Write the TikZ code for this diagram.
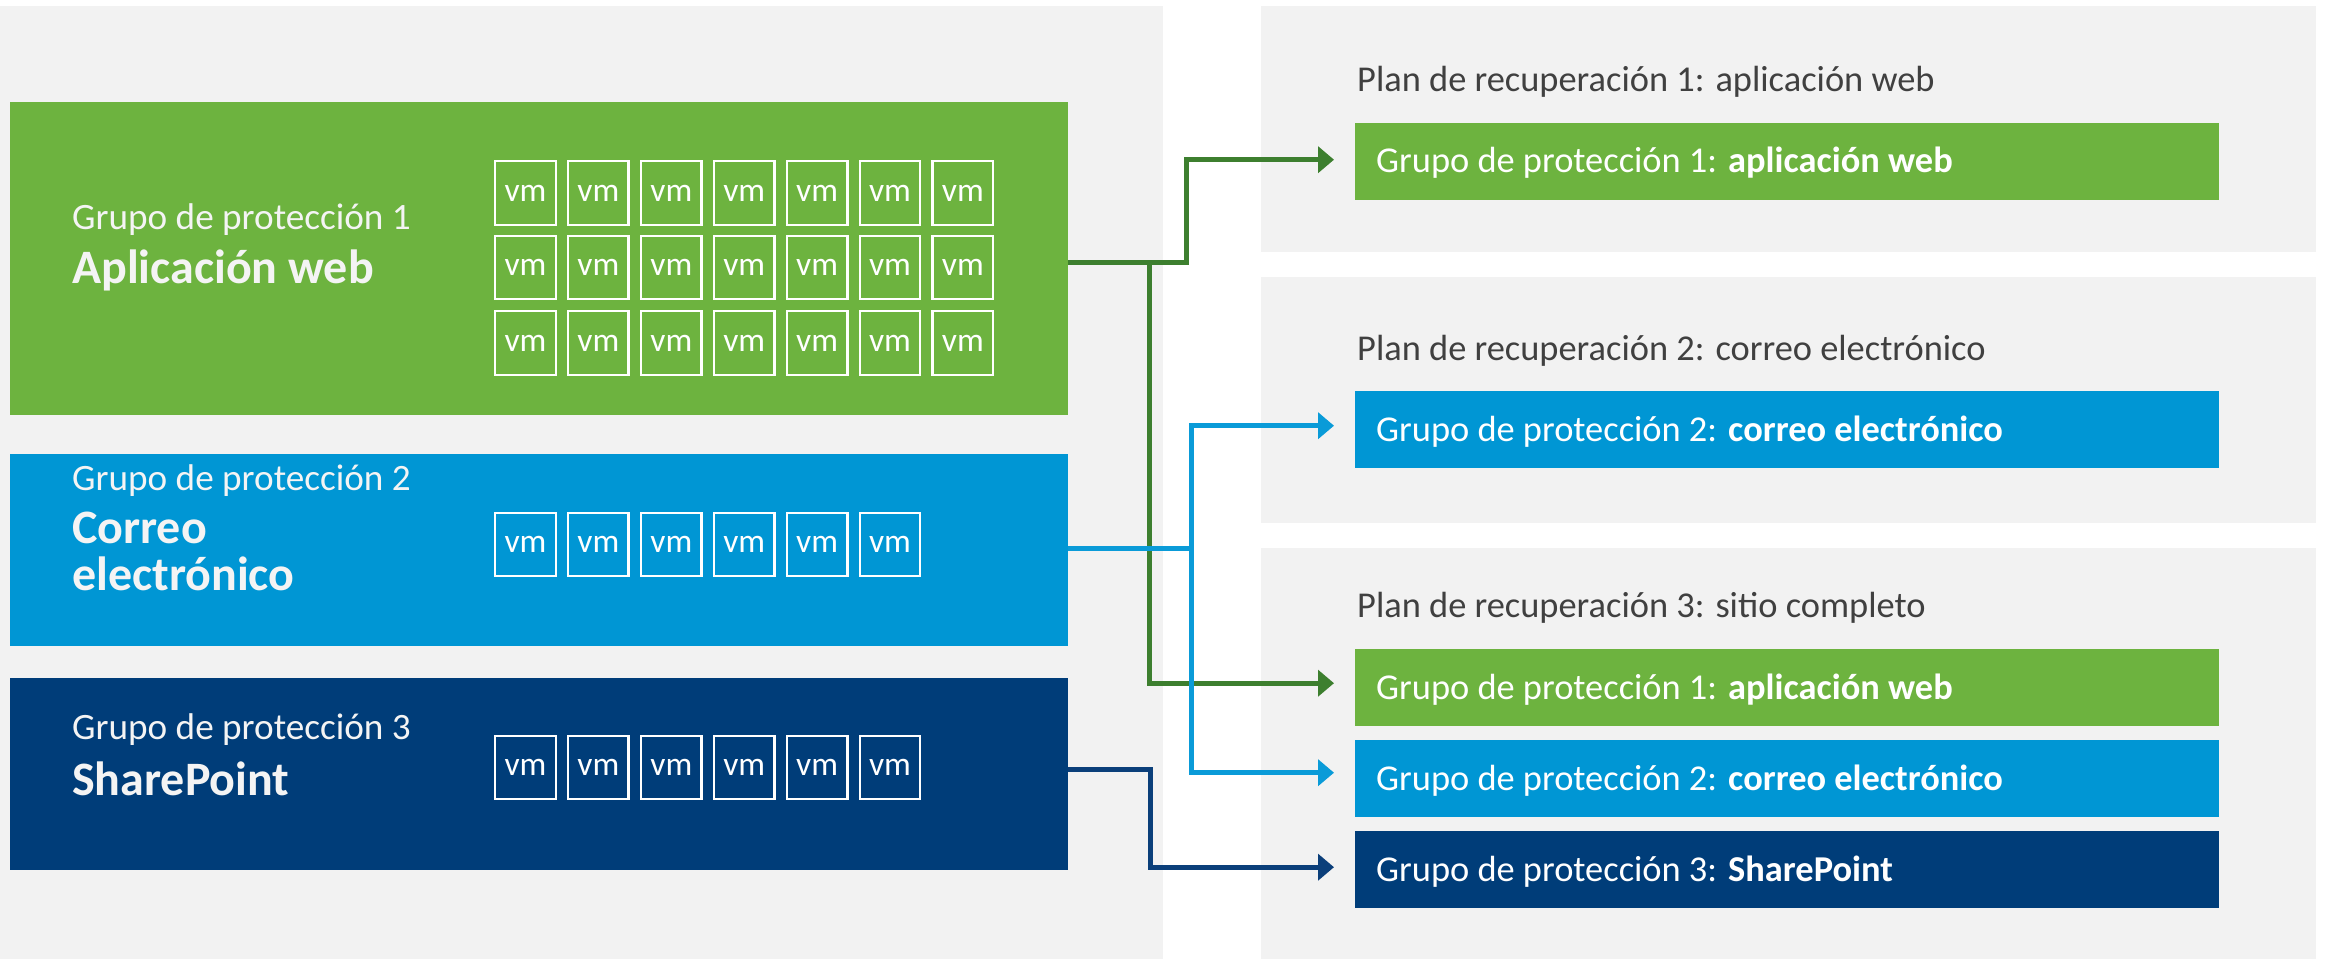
\documentclass[tikz,border=0pt]{standalone}
\usepackage{fontspec}
\setmainfont{Carlito}
\usetikzlibrary{arrows.meta}
\definecolor{pgray}{HTML}{F2F2F2}
\definecolor{cgreen}{HTML}{6DB33F}
\definecolor{cblue}{HTML}{0096D4}
\definecolor{cnavy}{HTML}{003D79}
\definecolor{lgreen}{HTML}{3D7F2F}
\definecolor{lblue}{HTML}{0A9BD8}
\definecolor{lnavy}{HTML}{0B3F7A}
\definecolor{ttext}{HTML}{404040}
\definecolor{ltext}{HTML}{F4F4F4}
\begin{document}
\begin{tikzpicture}[x=1pt,y=-1pt,
  panel/.style={fill=pgray,draw=none},
  bigbox/.style={draw=none,inner sep=0pt,anchor=north west,minimum width=1058pt,minimum height=#1},
  barbox/.style={draw=none,inner sep=0pt,anchor=north west,minimum width=864pt,minimum height=77pt},
  vmbox/.style={draw=white,line width=2.4pt,inner sep=0pt,minimum width=60.5pt,minimum height=63.5pt,
     text=white,font=\fontsize{33.5}{36}\selectfont},
  small/.style={anchor=base west,inner sep=0pt,text=ltext,font=\fontsize{37.2}{44}\selectfont},
  big/.style={anchor=base west,inner sep=0pt,text=ltext,font=\fontsize{48}{52}\bfseries\selectfont},
  ptitle/.style={anchor=base west,inner sep=0pt,text=ttext,font=\fontsize{36.4}{42}\selectfont},
  bartext/.style={anchor=base west,inner sep=0pt,text=white,font=\fontsize{36.4}{42}\selectfont},
  conn/.style={line width=5pt,-{Triangle[length=16pt,width=26pt]},shorten >=21pt},
]
\useasboundingbox (0,0) rectangle (2325,959);
\fill[white] (0,0) rectangle (2325,959);
% panels
\fill[panel] (0,6) rectangle (1163,959);
\fill[panel] (1261,6) rectangle (2316,252);
\fill[panel] (1261,277) rectangle (2316,523);
\fill[panel] (1261,548) rectangle (2316,959);

% left group boxes
\node[bigbox=313pt,fill=cgreen] (p1) at (10,102) {};
\node[bigbox=192pt,fill=cblue] (p2) at (10,454) {};
\node[bigbox=192pt,fill=cnavy] (p3) at (10,678) {};

% left texts
\node[small] (t1a) at (72,229) {Grupo de protección 1};
\node[big]   (t1b) at (72,283.5) {Aplicación web};
\node[small] (t2a) at (72,490.5) {Grupo de protección 2};
\node[big]   (t2b) at (72,543) {Correo};
\node[big]   (t2c) at (72,590) {electrónico};
\node[small] (t3a) at (72,739) {Grupo de protección 3};
\node[big]   (t3b) at (72,795) {SharePoint};

% vm grids
\foreach \r/\y in {1/193,2/267.5,3/343}{
  \foreach \c in {0,...,6}{
    \node[vmbox] (vmg\r\c) at (525.5+72.9*\c,\y) {vm};
  }
}
\foreach \c in {0,...,5}{
  \node[vmbox] (vmb\c) at (525.5+72.9*\c,544.5) {vm};
  \node[vmbox] (vmn\c) at (525.5+72.9*\c,767.5) {vm};
}

% right plan titles
\node[ptitle] (rt1) at (1357,91.7) {Plan de recuperación 1: aplicación web};
\node[ptitle] (rt2) at (1357,360) {Plan de recuperación 2: correo electrónico};
\node[ptitle] (rt3) at (1357,617.7) {Plan de recuperación 3: sitio completo};

% right bars
\node[barbox,fill=cgreen] (b1) at (1355,123) {};
\node[barbox,fill=cblue]  (b2) at (1355,391) {};
\node[barbox,fill=cgreen] (b3a) at (1355,649) {};
\node[barbox,fill=cblue]  (b3b) at (1355,740) {};
\node[barbox,fill=cnavy]  (b3c) at (1355,831) {};

\node[bartext] (bt1) at (1376,172.8) {Grupo de protección 1: \textbf{aplicación web}};
\node[bartext] (bt2) at (1376,441) {Grupo de protección 2: \textbf{correo electrónico}};
\node[bartext] (bt3a) at (1376,699.5) {Grupo de protección 1: \textbf{aplicación web}};
\node[bartext] (bt3b) at (1376,790) {Grupo de protección 2: \textbf{correo electrónico}};
\node[bartext] (bt3c) at (1376,881) {Grupo de protección 3: \textbf{SharePoint}};

% connector helper coordinates
\coordinate (xg) at (1186,0);
\coordinate (xgb) at (1149.5,0);
\coordinate (xb) at (1191,0);
\coordinate (xn) at (1150,0);
\coordinate (g1o) at ([yshift=-4pt]p1.east);
\coordinate (b2o) at ([yshift=2pt]p2.east);
\coordinate (n3o) at ([yshift=5pt]p3.east);
\coordinate (a1) at ([yshift=2pt]b1.west);
\coordinate (a2) at ([yshift=4pt]b2.west);
\coordinate (a3a) at ([yshift=4.5pt]b3a.west);
\coordinate (a3b) at ([yshift=6pt]b3b.west);
\coordinate (a3c) at ([yshift=2.5pt]b3c.west);

% green connectors
\draw[conn,draw=lgreen] (g1o) -| (xg |- a1) -- (a1);
\draw[conn,draw=lgreen] (xgb |- g1o) |- (a3a);
% blue connectors
\draw[conn,draw=lblue] (b2o) -| (xb |- a2) -- (a2);
\draw[conn,draw=lblue] (xb |- b2o) |- (a3b);
% navy connector
\draw[conn,draw=lnavy] (n3o) -| (xn |- a3c) -- (a3c);
\end{tikzpicture}
\end{document}
